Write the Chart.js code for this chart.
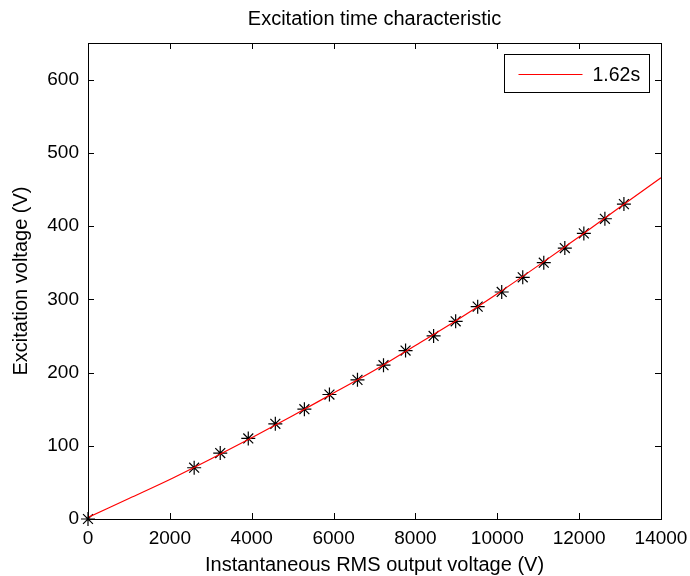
<!DOCTYPE html>
<html>
<head>
<meta charset="utf-8">
<script src="https://cdn.jsdelivr.net/npm/chart.js@4/dist/chart.umd.min.js"></script>
<style>
  html, body { margin: 0; padding: 0; background: #fff; }
  canvas { display: block; }
</style>
</head>
<body>
<canvas id="c" width="690" height="576"></canvas>
<script>
// Measured operating points: instantaneous RMS output voltage (V) vs excitation voltage (V)
const measuredOutput = [0, 2594, 3231, 3916, 4577, 5287, 5899, 6584, 7220, 7759, 8444, 8983, 9521, 10108, 10622, 11136, 11650, 12115, 12629, 13094];
const measuredExcitation = [0, 70, 90, 110, 130, 150, 170, 190, 210, 230, 250, 270, 290, 310, 330, 350, 370, 390, 410, 430];

// Characteristic curve for an excitation time of 1.62 s
const curveOutput = [0, 1000, 2000, 3000, 4000, 5000, 6000, 7000, 8000, 9000, 10000, 11000, 12000, 13000, 14000];
const curveExcitation = [2, 28, 54, 82, 111, 141, 172, 203, 237, 271, 307.5, 346, 385.5, 426, 466];
const curveLabel = '1.62s';

const xTicks = { min: 0, max: 14000, step: 2000 };
const yTicks = { min: 0, max: 650, step: 100 };

const FONT = "'Liberation Sans', Arial, Helvetica, sans-serif";

const toPoints = (xs, ys) => xs.map((x, i) => ({ x, y: ys[i] }));

// Axes box with inward tick marks on all four sides
const boxAxes = {
  id: 'boxAxes',
  afterDatasetsDraw(chart) {
    const { ctx, chartArea: a, scales } = chart;
    const len = 6;
    ctx.save();
    ctx.strokeStyle = '#000';
    ctx.lineWidth = 1;
    ctx.beginPath();
    scales.x.ticks.forEach(t => {
      const px = Math.round(scales.x.getPixelForValue(t.value)) + 0.5;
      ctx.moveTo(px, a.bottom); ctx.lineTo(px, a.bottom - len);
      ctx.moveTo(px, a.top); ctx.lineTo(px, a.top + len);
    });
    scales.y.ticks.forEach(t => {
      const py = Math.round(scales.y.getPixelForValue(t.value)) + 0.5;
      ctx.moveTo(a.left, py); ctx.lineTo(a.left + len, py);
      ctx.moveTo(a.right, py); ctx.lineTo(a.right - len, py);
    });
    ctx.stroke();
    ctx.strokeRect(Math.round(a.left) + 0.5, Math.round(a.top) + 0.5,
                   Math.round(a.right - a.left), Math.round(a.bottom - a.top));
    ctx.restore();
  }
};

// Legend box in the upper right corner of the plot
const boxLegend = {
  id: 'boxLegend',
  afterDraw(chart) {
    const { ctx, chartArea: a } = chart;
    const ds = chart.data.datasets[1];
    const w = 145, h = 38;
    const x0 = Math.round(a.right - 12 - w) + 0.5;
    const y0 = Math.round(a.top + 11) + 0.5;
    ctx.save();
    ctx.fillStyle = '#fff';
    ctx.fillRect(x0, y0, w, h);
    ctx.strokeStyle = '#000';
    ctx.lineWidth = 1;
    ctx.strokeRect(x0, y0, w, h);
    const cy = Math.round(y0 + h / 2) + 0.5;
    ctx.strokeStyle = ds.borderColor;
    ctx.beginPath();
    ctx.moveTo(x0 + 14, cy);
    ctx.lineTo(x0 + 78, cy);
    ctx.stroke();
    ctx.fillStyle = '#000';
    ctx.font = '19.5px ' + FONT;
    ctx.textBaseline = 'middle';
    ctx.textAlign = 'left';
    ctx.fillText(ds.label, x0 + 88, cy + 1);
    ctx.restore();
  }
};

new Chart(document.getElementById('c'), {
  type: 'scatter',
  data: {
    datasets: [
      {
        label: 'measured',
        data: toPoints(measuredOutput, measuredExcitation),
        showLine: false,
        pointStyle: 'star',
        pointRadius: 7,
        pointBorderWidth: 1.2,
        borderColor: '#000',
        backgroundColor: '#000',
        clip: false,
        order: 2
      },
      {
        label: curveLabel,
        data: toPoints(curveOutput, curveExcitation),
        showLine: true,
        borderColor: '#ff0000',
        borderWidth: 1.2,
        pointRadius: 0,
        cubicInterpolationMode: 'monotone',
        order: 1
      }
    ]
  },
  options: {
    responsive: false,
    animation: false,
    events: [],
    layout: { padding: { left: 0, right: 29, top: 0, bottom: 0 } },
    plugins: {
      legend: { display: false },
      tooltip: { enabled: false },
      title: {
        display: true,
        text: 'Excitation time characteristic',
        color: '#000',
        fullSize: false,
        font: { family: FONT, size: 20, weight: 'normal', lineHeight: 1.2 },
        padding: { top: 7.5, bottom: 11.5 }
      }
    },
    scales: {
      x: {
        type: 'linear',
        min: xTicks.min,
        max: xTicks.max,
        grid: { display: false, drawTicks: false },
        border: { display: false },
        ticks: {
          stepSize: xTicks.step,
          includeBounds: false,
          color: '#000',
          padding: 8,
          maxRotation: 0,
          font: { family: FONT, size: 19 },
          callback: v => String(v)
        },
        title: {
          display: true,
          text: 'Instantaneous RMS output voltage (V)',
          color: '#000',
          font: { family: FONT, size: 20, lineHeight: 1 },
          padding: { top: 0, bottom: 1 }
        },
        afterFit(scale) {
          scale.height = 57;
          scale.paddingLeft = 0;
          scale.paddingRight = 0;
        }
      },
      y: {
        type: 'linear',
        min: yTicks.min,
        max: yTicks.max,
        grid: { display: false, drawTicks: false },
        border: { display: false },
        ticks: {
          stepSize: yTicks.step,
          includeBounds: false,
          color: '#000',
          padding: 9,
          font: { family: FONT, size: 19 },
          callback: v => String(v)
        },
        title: {
          display: true,
          text: 'Excitation voltage (V)',
          color: '#000',
          font: { family: FONT, size: 20, lineHeight: 1.2 },
          padding: { top: 9, bottom: 0 }
        },
        afterFit(scale) {
          scale.width = 88;
          scale.paddingTop = 0;
          scale.paddingBottom = 0;
        }
      }
    }
  },
  plugins: [boxAxes, boxLegend]
});
</script>
</body>
</html>
